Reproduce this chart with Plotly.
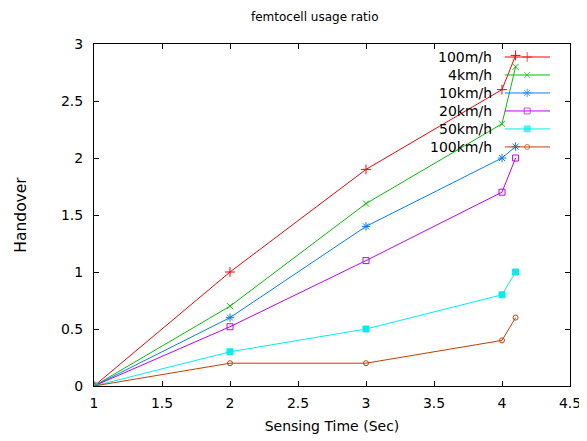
import plotly.graph_objects as go

x_vals = [1, 2, 3, 4, 4.1]
series_names = ["100m/h", "4km/h", "10km/h", "20km/h", "50km/h", "100km/h"]
s_100mh = [0, 1.0, 1.9, 2.6, 2.9]
s_4kmh = [0, 0.7, 1.6, 2.3, 2.8]
s_10kmh = [0, 0.6, 1.4, 2.0, 2.1]
s_20kmh = [0, 0.52, 1.1, 1.7, 2.0]
s_50kmh = [0, 0.3, 0.5, 0.8, 1.0]
s_100kmh = [0, 0.2, 0.2, 0.4, 0.6]
series_values = [s_100mh, s_4kmh, s_10kmh, s_20kmh, s_50kmh, s_100kmh]

colors = ["#ff0000", "#00c000", "#0080ff", "#c000ff", "#00eeee", "#c04000"]
symbols = ["cross-thin", "x-thin", "asterisk", "square-open", "square", "circle-open"]
msizes = [7, 6, 7, 6, 6, 5]

FONT = "DejaVu Sans"
fig = go.Figure()

for name, vals, c, sym, ms in zip(series_names, series_values, colors, symbols, msizes):
    fig.add_trace(go.Scatter(
        x=x_vals, y=vals, mode="lines+markers", name=name,
        line=dict(color=c, width=1),
        marker=dict(symbol=sym, size=ms, color=c, line=dict(color=c, width=1)),
        showlegend=False,
    ))

# gnuplot-style key (text right, sample on the right) on an overlay axis
y0 = 0.962
dy = 0.0526
for i, (name, c, sym, ms) in enumerate(zip(series_names, colors, symbols, msizes)):
    yy = y0 - i * dy
    fig.add_trace(go.Scatter(
        x=[0.863, 0.910, 0.958], y=[yy, yy, yy], xaxis="x2", yaxis="y2",
        mode="lines+markers", showlegend=False, hoverinfo="skip",
        line=dict(color=c, width=1),
        marker=dict(symbol=sym, size=[0, ms, 0], color=c, line=dict(color=c, width=1)),
    ))
    fig.add_annotation(x=0.840, y=yy, xref="x2", yref="y2", text=name,
                       showarrow=False, xanchor="right", yanchor="middle",
                       font=dict(family=FONT, size=14, color="#000000"))

fig.add_annotation(x=0.464, y=1 + (44 - 17) / 342, xref="paper", yref="paper",
                   text="femtocell usage ratio", showarrow=False, yanchor="middle",
                   font=dict(family=FONT, size=12, color="#000000"))

axis_common = dict(
    showgrid=False, zeroline=False, showline=True, linecolor="#000000", linewidth=1,
    mirror="allticks", ticks="inside", ticklen=5, tickcolor="#000000", tickwidth=1,
    tickfont=dict(family=FONT, size=14, color="#000000"),
)

fig.update_layout(
    width=579, height=433,
    margin=dict(l=86, r=17, t=36, b=55, autoexpand=False),
    paper_bgcolor="white", plot_bgcolor="white",
    xaxis=dict(range=[1, 4.5], tickvals=[1, 1.5, 2, 2.5, 3, 3.5, 4, 4.5],
               ticktext=["1", "1.5", "2", "2.5", "3", "3.5", "4", "4.5"],
               ticklabelstandoff=4,
               title=dict(text="Sensing Time (Sec)", font=dict(family=FONT, size=14, color="#000000"), standoff=11),
               **axis_common),
    yaxis=dict(range=[0, 3], tickvals=[0, 0.5, 1, 1.5, 2, 2.5, 3],
               ticktext=["0", "0.5", "1", "1.5", "2", "2.5", "3"],
               ticklabelstandoff=7,
               title=dict(text="Handover", font=dict(family=FONT, size=15.5, color="#000000"), standoff=30),
               **axis_common),
    xaxis2=dict(range=[0, 1], overlaying="x", visible=False, anchor="y2"),
    yaxis2=dict(range=[0, 1], overlaying="y", visible=False, anchor="x2"),
)

fig.write_html("out.html")
